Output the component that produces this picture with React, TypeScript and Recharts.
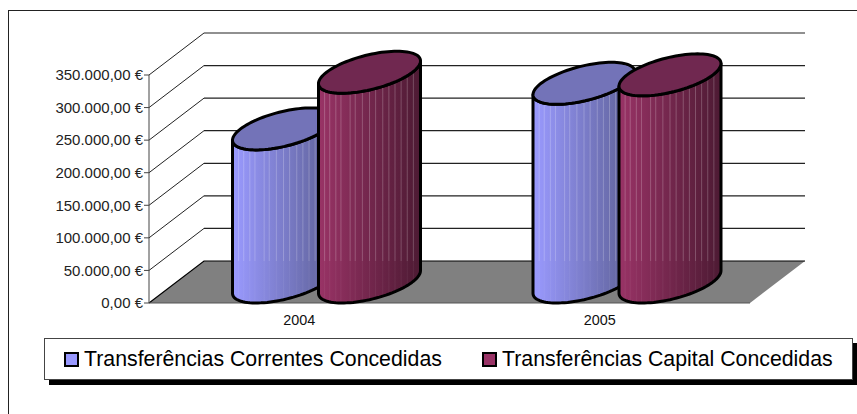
import React from "react";
import { BarChart, Bar, XAxis, YAxis, CartesianGrid, Legend } from "recharts";

const years = ["2004", "2005"];
const correntes = [235000, 305000];
const capital = [322000, 318000];
const yTicks = [0, 50000, 100000, 150000, 200000, 250000, 300000, 350000];
const yLabels = ["0,00 €", "50.000,00 €", "100.000,00 €", "150.000,00 €", "200.000,00 €", "250.000,00 €", "300.000,00 €", "350.000,00 €"];
const seriesNames = ["Transferências Correntes Concedidas", "Transferências Capital Concedidas"];

const data = years.map((year, i) => ({ year, correntes: correntes[i], capital: capital[i] }));

// depth of the fake 3d floor
const DX = 55;
const DY = 42;
const FLOOR_Y = 303;
const FONT = "'Liberation Sans', Arial, sans-serif";

// where the thin light pinstripes sit across a cylinder (0..1)
const stripes = [0.06, 0.11, 0.17, 0.22, 0.31, 0.36, 0.43, 0.5, 0.56, 0.63, 0.69, 0.75, 0.81, 0.87, 0.93];

const Wall3D = (props: any) => {
  const { x1, y1, x2 } = props;
  if (Math.abs(y1 - FLOOR_Y) < 1) {
    return (
      <g>
        <polygon
          points={`${x1},${y1} ${x1 + DX},${y1 - DY} ${x2 + DX},${y1 - DY} ${x2},${y1}`}
          fill="#808080"
        />
        <path d={`M${x1},${y1} L${x1 + DX},${y1 - DY} L${x2 + DX},${y1 - DY}`} fill="none" stroke="#000" strokeWidth={1.2} />
        <line x1={x1} y1={y1} x2={x2} y2={y1} stroke="#555" strokeWidth={1} />
      </g>
    );
  }
  return (
    <g>
      <line x1={x1} y1={y1} x2={x1 + DX} y2={y1 - DY} stroke="#222" strokeWidth={1} />
      <line x1={x1 + DX} y1={y1 - DY} x2={x2 + DX} y2={y1 - DY} stroke="#222" strokeWidth={1.2} />
    </g>
  );
};

const Cylinder = (props: any) => {
  const { x, y, width, height, index, gradient, topFill } = props;
  const cx = x + width / 2 + DX / 2;
  const cyTop = y - DY / 2;
  const cyBase = y + height - DY / 2;
  const a = Math.sqrt(Math.max(width * width / 4 - (DX * DX) / 4, 1));
  const pt = (cy: number, t: number) =>
    `${(cx + a * Math.cos(t) + (DX / 2) * Math.sin(t)).toFixed(2)},${(cy - (DY / 2) * Math.sin(t)).toFixed(2)}`;
  const tRight = Math.atan2(DX / 2, a);
  const tLeft = Math.PI + tRight;
  const N = 48;
  const front: number[] = [];
  for (let i = 0; i <= N; i++) front.push(tLeft + (i / N) * Math.PI);
  const ring: number[] = [];
  for (let i = 0; i <= N * 2; i++) ring.push((i / (N * 2)) * Math.PI * 2);

  const body =
    "M" + front.map((t) => pt(cyBase, t)).join(" L") +
    " L" + front.slice().reverse().map((t) => pt(cyTop, t)).join(" L") + " Z";
  const top = "M" + ring.map((t) => pt(cyTop, t)).join(" L") + " Z";
  const clip = `${gradient}-${index}`;
  const left = cx - width / 2;
  const backFloor = FLOOR_Y - DY;

  return (
    <g>
      <clipPath id={clip}><path d={body} /></clipPath>
      <path d={body} fill={`url(#${gradient})`} />
      <g clipPath={`url(#${clip})`}>
        {stripes.map((f) => (
          <g key={f}>
            <line x1={left + f * width} x2={left + f * width} y1={cyTop} y2={backFloor} stroke="#fff" strokeOpacity={0.22} strokeWidth={1} />
            <line x1={left + f * width} x2={left + f * width} y1={backFloor} y2={cyBase + DY} stroke="#fff" strokeOpacity={0.06} strokeWidth={1} />
          </g>
        ))}
      </g>
      <path d={body} fill="none" stroke="#000" strokeWidth={3} strokeLinejoin="round" />
      <path d={top} fill={topFill} stroke="#000" strokeWidth={3} />
    </g>
  );
};

const swatchFills = ["#9999ff", "#993366"];
const entryLefts = [64, 482];

const ChartLegend = () => (
  <div style={{ position: "relative", width: 809, height: 42, background: "#fff", border: "1px solid #444", boxSizing: "border-box", boxShadow: "5px 5px 0 #000", fontFamily: FONT, fontSize: 21.3, color: "#000" }}>
    {seriesNames.map((name, i) => (
      <div key={name} style={{ position: "absolute", left: entryLefts[i] - 45, top: 0, height: 40, display: "flex", alignItems: "center", whiteSpace: "nowrap" }}>
        <span style={{ display: "inline-block", width: 15, height: 15, boxSizing: "border-box", border: "2.5px solid #000", background: swatchFills[i], marginRight: 5 }} />
        {name}
      </div>
    ))}
  </div>
);

export default function App() {
  return (
    <div style={{ position: "absolute", left: 0, top: 0, width: 857, height: 414, overflow: "hidden", background: "#fff" }}>
      <div style={{ position: "absolute", left: 8, top: 10, width: 900, height: 500, border: "1.5px solid #222" }} />
      <div style={{ position: "absolute", left: 0, top: 0 }}>
        <BarChart
          width={857}
          height={414}
          data={data}
          margin={{ top: 75, right: 107, bottom: 76, left: 0 }}
          barSize={102}
          barGap={-16}
        >
          <defs>
            <linearGradient id="blueSide" x1="0" y1="0" x2="1" y2="0">
              <stop offset="0%" stopColor="#9a9aff" />
              <stop offset="100%" stopColor="#5c5f94" />
            </linearGradient>
            <linearGradient id="maroonSide" x1="0" y1="0" x2="1" y2="0">
              <stop offset="0%" stopColor="#993366" />
              <stop offset="100%" stopColor="#4d1a33" />
            </linearGradient>
          </defs>
          <CartesianGrid vertical={false} horizontal={(p: any) => <Wall3D key={p.key} {...p} />} />
          <XAxis
            dataKey="year"
            height={35}
            axisLine={false}
            tickLine={false}
            tick={{ fontFamily: FONT, fontSize: 14.4, fill: "#111" }}
            tickMargin={6}
          />
          <YAxis
            width={149}
            domain={[0, 350000]}
            ticks={yTicks}
            interval={0}
            tickFormatter={(v: number) => yLabels[yTicks.indexOf(v)]}
            tick={{ fontFamily: FONT, fontSize: 15, fill: "#222" }}
            tickSize={5}
            tickMargin={1}
            stroke="#444"
          />
          <Legend
            layout="vertical"
            align="center"
            verticalAlign="middle"
            wrapperStyle={{ position: "absolute", left: 44, top: 338, width: 809 }}
            content={() => <ChartLegend />}
          />
          <Bar
            dataKey="correntes"
            name={seriesNames[0]}
            fill="#9999ff"
            isAnimationActive={false}
            shape={(p: any) => <Cylinder {...p} gradient="blueSide" topFill="#7373b8" />}
          />
          <Bar
            dataKey="capital"
            name={seriesNames[1]}
            fill="#993366"
            isAnimationActive={false}
            shape={(p: any) => <Cylinder {...p} gradient="maroonSide" topFill="#702850" />}
          />
        </BarChart>
      </div>
    </div>
  );
}
